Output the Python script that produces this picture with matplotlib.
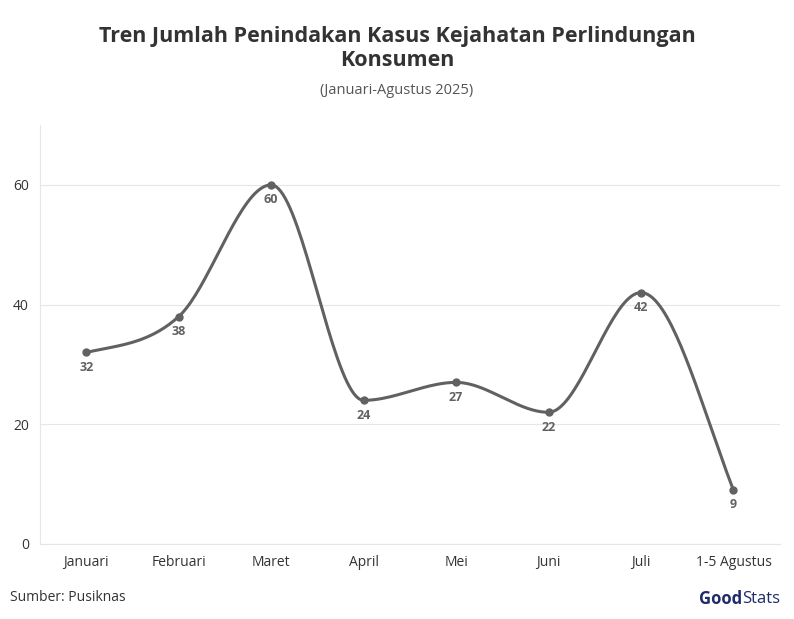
import numpy as np
import matplotlib.pyplot as plt

months = ["Januari", "Februari", "Maret", "April", "Mei", "Juni", "Juli", "1-5 Agustus"]
cases = [32, 38, 60, 24, 27, 22, 42, 9]
yticks = [0, 20, 40, 60]

LINE = "#616161"


def smooth(xs, ys, n=40):
    """cubic bezier through the points, flat at peaks and valleys"""
    xs = np.asarray(xs, float)
    ys = np.asarray(ys, float)
    m = np.zeros(len(ys))
    for i in range(1, len(ys) - 1):
        d0 = ys[i] - ys[i - 1]
        d1 = ys[i + 1] - ys[i]
        if d0 * d1 > 0:
            m[i] = (ys[i + 1] - ys[i - 1]) / (xs[i + 1] - xs[i - 1])
    # ends follow the first / last segment
    m[0] = 0.6 * (ys[1] - ys[0]) / (xs[1] - xs[0])
    m[-1] = 1.2 * (ys[-1] - ys[-2]) / (xs[-1] - xs[-2])
    ox, oy = [], []
    t = np.linspace(0, 1, n)
    for i in range(len(xs) - 1):
        h = xs[i + 1] - xs[i]
        p1 = np.array([xs[i], ys[i]])
        p2 = np.array([xs[i + 1], ys[i + 1]])
        c1 = p1 + np.array([h / 3, m[i] * h / 3])
        c2 = p2 - np.array([h / 3, m[i + 1] * h / 3])
        b = ((1 - t) ** 3)[:, None] * p1 + (3 * (1 - t) ** 2 * t)[:, None] * c1 \
            + (3 * (1 - t) * t ** 2)[:, None] * c2 + (t ** 3)[:, None] * p2
        ox.extend(b[:, 0])
        oy.extend(b[:, 1])
    return ox, oy


plt.rcParams["font.family"] = "Open Sans"

fig = plt.figure(figsize=(7.94, 6.19), dpi=100)
ax = fig.add_axes([0.0504, 0.1212, 0.9316, 0.6768])

x = np.arange(len(months))
sx, sy = smooth(x, cases)
ax.plot(sx, sy, color=LINE, lw=2.2, zorder=3)
ax.plot(x, cases, "o", color=LINE, ms=5, zorder=4)
for xi, v in zip(x, cases):
    ax.annotate(str(v), (xi, v), xytext=(0, -6), textcoords="offset points",
                ha="center", va="top", fontsize=9, fontweight="bold", color=LINE)

ax.set_xlim(-0.5, len(months) - 0.5)
ax.set_ylim(0, 70)
ax.set_xticks(x)
ax.set_xticklabels(months, fontsize=10, color="#333333")
ax.set_yticks(yticks)
ax.set_yticklabels([str(t) for t in yticks], fontsize=10, color="#333333")
ax.tick_params(length=0, pad=8)
ax.grid(axis="y", color="#e6e6e6", lw=0.8)
ax.set_axisbelow(True)
for s in ["top", "right"]:
    ax.spines[s].set_visible(False)
ax.spines["left"].set_color("#e6e6e6")
ax.spines["bottom"].set_color("#e6e6e6")

fig.text(0.5, 0.922, "Tren Jumlah Penindakan Kasus Kejahatan Perlindungan\nKonsumen",
         ha="center", va="center", fontsize=15.5, fontweight="bold", color="#333333",
         linespacing=1.2)
fig.text(0.5, 0.853, "(Januari-Agustus 2025)", ha="center", va="center",
         fontsize=10.5, color="#555555")
fig.text(0.013, 0.035, "Sumber: Pusiknas", ha="left", va="center", fontsize=10, color="#333333")
fig.text(0.935, 0.032, "Good", ha="right", va="center", fontsize=12, fontweight="bold",
         color="#1f2a6b")
fig.text(0.935, 0.032, "Stats", ha="left", va="center", fontsize=12, color="#1f2a6b")

fig.savefig("out.png", dpi=100)
